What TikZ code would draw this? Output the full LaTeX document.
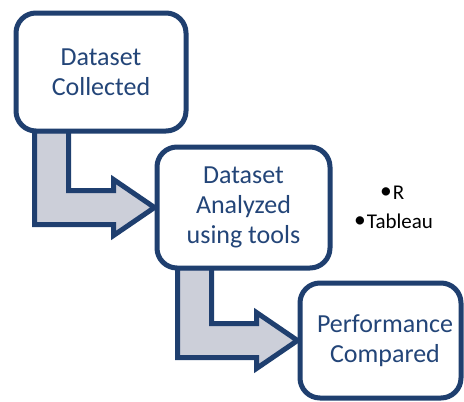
\documentclass[tikz,border=0pt]{standalone}
\usepackage{fontspec}
\usepackage{graphicx}
\setmainfont{Carlito}
\usetikzlibrary{calc,backgrounds}
\definecolor{navy}{HTML}{1F3F6F}
\definecolor{navytext}{HTML}{234578}
\definecolor{arrowfill}{HTML}{CCCFD9}
\tikzset{
  stagebox/.style={draw=navy, line width=5pt, rounded corners=20pt, fill=white,
    text=navytext, align=center, inner sep=0pt,
    font=\fontsize{26}{30}\selectfont},
  bentarrow/.style={draw=navy, line width=5pt, fill=arrowfill, line join=miter},
  bullettext/.style={text=black, inner sep=0pt, font=\fontsize{21}{24}\selectfont}
}
\newcommand{\bigbullet}{\raisebox{0.1ex}{\scalebox{1.12}{•}}\hspace{1pt}}
\newcommand{\bentarrowfrom}[2]{%
  \path[bentarrow] let \p1=(#2.west), \p2=(#1.south) in
    (\x1-120pt,\y2+3pt) -- (\x1-120pt,\y1-17pt) -- (\x1-41pt,\y1-17pt) --
    (\x1-41pt,\y1-28pt) -- (\x1,\y1) -- (\x1-41pt,\y1+28pt) --
    (\x1-41pt,\y1+17pt) -- (\x1-86pt,\y1+17pt) -- (\x1-86pt,\y2+3pt) -- cycle;}
\begin{document}
\begin{tikzpicture}[x=1pt,y=-1pt]
\useasboundingbox (0,0) rectangle (464,402);
\node[stagebox, minimum width=170pt, minimum height=118pt] (b1) at (101,72) {Dataset\\Collected};
\node[stagebox, minimum width=173pt, minimum height=121pt] (b2) at (243.5,207.5) {Dataset\\Analyzed\\using tools};
\node[stagebox, minimum width=161pt, minimum height=115pt] (b3) at (380.5,340.5) {\hspace*{9pt}Performance\\\hspace*{9pt}Compared};
\begin{scope}[on background layer]
\bentarrowfrom{b1}{b2}
\bentarrowfrom{b2}{b3}
\end{scope}
\node[bullettext, anchor=west] (tR) at (380,193) {\bigbullet R};
\node[bullettext, anchor=west] (tT) at (354,221) {\bigbullet Tableau};
\end{tikzpicture}
\end{document}
